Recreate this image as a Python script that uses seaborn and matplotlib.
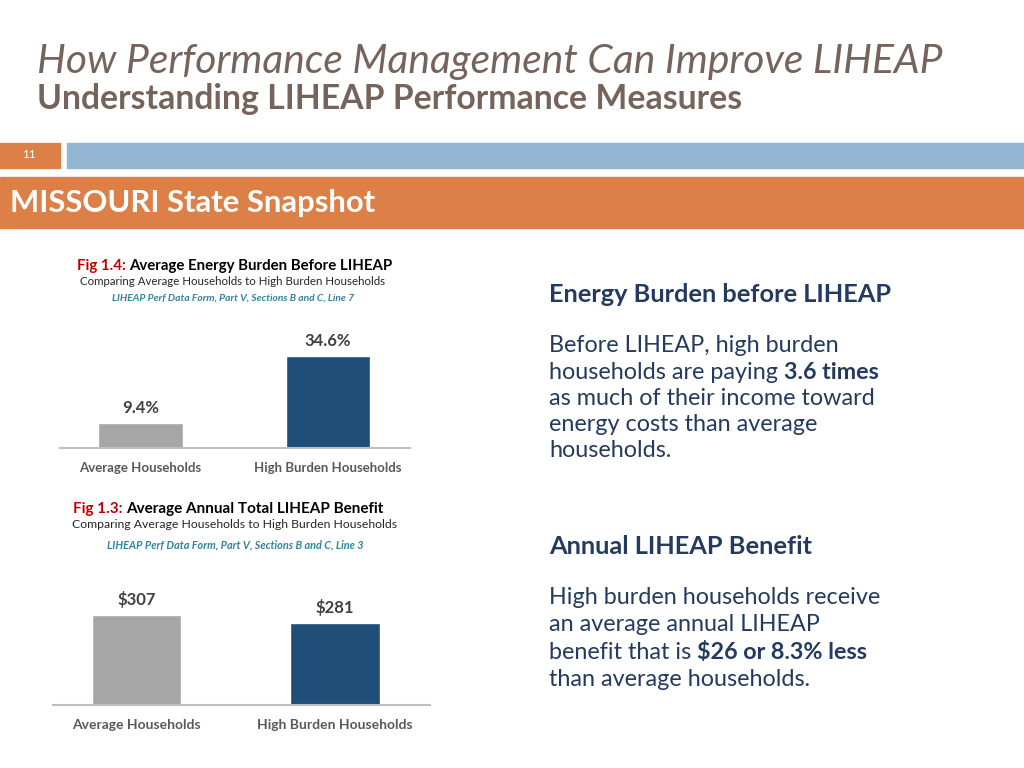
import matplotlib
matplotlib.use("Agg")
import matplotlib.pyplot as plt
import seaborn as sns
import pandas as pd
from matplotlib.patches import Rectangle

# data
categories = ["Average Households", "High Burden Households"]
burden_pct = [9.4, 34.6]
benefit_usd = [307, 281]
bar_colors = ["#a6a6a6", "#1f4e79"]

W, H = 1024, 768
sns.set_theme(style="white")
plt.rcParams["font.family"] = ["Lato", "DejaVu Sans"]

fig = plt.figure(figsize=(W / 100, H / 100), dpi=100)
fig.patch.set_facecolor("white")


def fx(x):
    return x / W


def fy(y):
    return 1 - y / H


def box(x0, y0, x1, y1, color):
    fig.patches.append(Rectangle((fx(x0), fy(y1)), fx(x1 - x0), (y1 - y0) / H,
                                 transform=fig.transFigure, color=color, zorder=0))


def runs(x, y, parts, size, color, ha="left"):
    # draw text segments one after another on a line
    r = fig.canvas.get_renderer()
    widths = []
    objs = []
    for txt, kw in parts:
        t = fig.text(fx(x), fy(y), txt, fontsize=size, color=kw.get("color", color),
                     fontweight=kw.get("weight", "normal"), fontstyle=kw.get("style", "normal"),
                     va="center", ha="left")
        widths.append(t.get_window_extent(r).width)
        objs.append(t)
    total = sum(widths)
    cx = x - total / 2 if ha == "center" else x
    for t, w in zip(objs, widths):
        t.set_x(fx(cx))
        cx += w


# header
title_col = "#76635b"
fig.text(fx(37), fy(61), "How Performance Management Can Improve LIHEAP", fontsize=29.3,
         style="italic", color=title_col, va="center")
fig.text(fx(37), fy(99), "Understanding LIHEAP Performance Measures", fontsize=24.3,
         fontweight="bold", color=title_col, va="center")

box(0, 143, 60, 168, "#dd8047")
fig.text(fx(29), fy(155), "11", fontsize=8.5, color="white", ha="center", va="center")
box(67, 143, 1024, 168, "#94b6d2")
box(0, 177, 1024, 228, "#dd8047")
fig.text(fx(10), fy(203), "MISSOURI State Snapshot", fontsize=22.3, fontweight="bold",
         color="white", va="center")


def bar_chart(rect, values, ymax, labels, xlim, cat_size):
    ax = fig.add_axes(rect)
    df = pd.DataFrame({"cat": categories, "val": values})
    sns.barplot(data=df, x="cat", y="val", hue="cat", palette=bar_colors, width=0.45,
                legend=False, ax=ax, saturation=1)
    for i, (v, lab) in enumerate(zip(values, labels)):
        ax.annotate(lab, (i, v), xytext=(0, 5), textcoords="offset points", ha="center",
                    va="bottom", fontsize=12, fontweight="bold", color="#404040")
    ax.set_xlim(*xlim)
    ax.set_ylim(0, ymax)
    ax.set_xlabel("")
    ax.set_ylabel("")
    ax.set_yticks([])
    ax.tick_params(axis="x", length=0, pad=10, labelsize=cat_size, labelcolor="#595959")
    for t in ax.get_xticklabels():
        t.set_fontweight("bold")
    for s in ["top", "left", "right"]:
        ax.spines[s].set_visible(False)
    ax.spines["bottom"].set_color("#bfbfbf")
    ax.spines["bottom"].set_linewidth(1.5)
    ax.patch.set_alpha(0)
    return ax


# Fig 1.4
runs(77, 266, [("Fig 1.4: ", {"color": "#c00000", "weight": "bold"}),
               ("Average Energy Burden Before LIHEAP", {"color": "black", "weight": "bold"})],
     10.8, "black")
fig.text(fx(233), fy(281), "Comparing Average Households to High Burden Households",
         fontsize=8.3, color="#262626", ha="center", va="center")
fig.text(fx(233), fy(298), "LIHEAP Perf Data Form, Part V, Sections B and C, Line 7",
         fontsize=7.4, color="#31849b", ha="center", va="center", style="italic",
         fontweight="bold")
bar_chart([fx(60), fy(448), (410 - 60) / W, (448 - 330) / H], burden_pct, 44.4,
          [f"{v}%" for v in burden_pct], (-0.43, 1.437), 9.5)

# Fig 1.3
runs(73, 509, [("Fig 1.3: ", {"color": "#c00000", "weight": "bold"}),
               ("Average Annual Total LIHEAP Benefit", {"color": "black", "weight": "bold"})],
     11, "black")
fig.text(fx(235), fy(525), "Comparing Average Households to High Burden Households",
         fontsize=8.8, color="#262626", ha="center", va="center")
fig.text(fx(235), fy(545), "LIHEAP Perf Data Form, Part V, Sections B and C, Line 3",
         fontsize=7.8, color="#31849b", ha="center", va="center", style="italic",
         fontweight="bold")
bar_chart([fx(53), fy(705), (430 - 53) / W, (705 - 580) / H], benefit_usd, 426.6,
          [f"${v}" for v in benefit_usd], (-0.42, 1.479), 10)

# right-hand text
txt_col = "#243a5e"
fig.text(fx(549), fy(295), "Energy Burden before LIHEAP", fontsize=18.3, fontweight="bold",
         color=txt_col, va="center")
para1 = [
    [("Before LIHEAP, high burden", {})],
    [("households are paying ", {}), ("3.6 times", {"weight": "bold"})],
    [("as much of their income toward", {})],
    [("energy costs than average", {})],
    [("households.", {})],
]
for i, line in enumerate(para1):
    runs(549, 346 + i * 26.2, line, 16.8, txt_col)

fig.text(fx(549), fy(547), "Annual LIHEAP Benefit", fontsize=18.3, fontweight="bold",
         color=txt_col, va="center")
para2 = [
    [("High burden households receive", {})],
    [("an average annual LIHEAP", {})],
    [("benefit that is ", {}), ("$26 or 8.3% less", {"weight": "bold"})],
    [("than average households.", {})],
]
for i, line in enumerate(para2):
    runs(549, 597 + i * 27.6, line, 16.8, txt_col)

fig.savefig("out.png", dpi=100, facecolor="white")
